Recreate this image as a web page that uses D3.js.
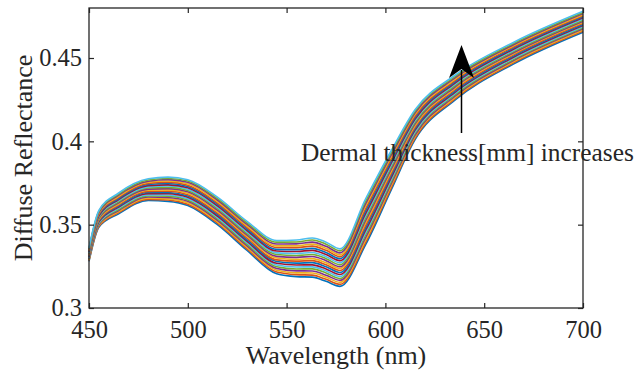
<!DOCTYPE html>
<html>
<head>
<meta charset="utf-8">
<script src="https://cdn.jsdelivr.net/npm/d3@7"></script>
<style>
  html, body { margin: 0; padding: 0; background: #fff; }
  svg { display: block; }
  text { font-family: "Liberation Serif", "Times New Roman", serif; fill: #262626; }
</style>
</head>
<body>
<svg id="chart" width="638" height="378"></svg>
<script>
// Wavelength samples (nm)
const wavelengths = [450, 455, 465, 480, 490, 500, 515, 530, 545, 555, 563, 570, 577, 590, 603, 615, 635, 665, 700];

// Diffuse reflectance of 20 spectra (one column per dermal thickness, thin -> thick), one row per wavelength
const reflectanceRows = [
  [.3280,.3284,.3288,.3293,.3297,.3301,.3305,.3309,.3314,.3318,.3322,.3326,.3331,.3335,.3339,.3343,.3347,.3352,.3356,.3360],
  [.3485,.3490,.3496,.3501,.3506,.3511,.3517,.3522,.3527,.3532,.3538,.3543,.3548,.3553,.3559,.3564,.3569,.3574,.3580,.3585],
  [.3565,.3572,.3578,.3585,.3591,.3598,.3605,.3611,.3618,.3624,.3631,.3637,.3644,.3651,.3657,.3664,.3670,.3677,.3683,.3690],
  [.3645,.3652,.3659,.3666,.3672,.3679,.3686,.3693,.3700,.3707,.3713,.3720,.3727,.3734,.3741,.3748,.3755,.3761,.3768,.3775],
  [.3640,.3648,.3655,.3663,.3671,.3678,.3686,.3693,.3701,.3709,.3716,.3724,.3732,.3739,.3747,.3755,.3762,.3770,.3777,.3785],
  [.3615,.3623,.3631,.3640,.3648,.3656,.3664,.3672,.3680,.3688,.3697,.3705,.3713,.3721,.3729,.3737,.3746,.3754,.3762,.3770],
  [.3500,.3509,.3517,.3526,.3535,.3543,.3552,.3561,.3569,.3578,.3587,.3596,.3604,.3613,.3622,.3630,.3639,.3648,.3656,.3665],
  [.3345,.3354,.3363,.3373,.3382,.3391,.3400,.3409,.3419,.3428,.3437,.3446,.3456,.3465,.3474,.3483,.3492,.3502,.3511,.3520],
  [.3205,.3216,.3226,.3237,.3247,.3258,.3268,.3279,.3289,.3300,.3310,.3321,.3331,.3342,.3352,.3363,.3373,.3384,.3395,.3405],
  [.3188,.3200,.3211,.3223,.3234,.3246,.3258,.3269,.3281,.3292,.3304,.3315,.3327,.3339,.3350,.3362,.3373,.3385,.3396,.3408],
  [.3185,.3197,.3210,.3222,.3235,.3247,.3259,.3272,.3284,.3296,.3309,.3321,.3333,.3346,.3358,.3371,.3383,.3395,.3408,.3420],
  [.3160,.3172,.3185,.3197,.3210,.3222,.3234,.3247,.3259,.3271,.3284,.3296,.3308,.3321,.3333,.3346,.3358,.3370,.3383,.3395],
  [.3130,.3142,.3154,.3166,.3177,.3189,.3201,.3213,.3225,.3237,.3248,.3260,.3272,.3284,.3296,.3308,.3319,.3331,.3343,.3355],
  [.3380,.3394,.3409,.3423,.3438,.3452,.3467,.3481,.3496,.3510,.3525,.3539,.3554,.3568,.3583,.3597,.3612,.3626,.3641,.3655],
  [.3710,.3722,.3735,.3747,.3759,.3772,.3784,.3797,.3809,.3821,.3834,.3846,.3858,.3871,.3883,.3896,.3908,.3920,.3933,.3945],
  [.4010,.4019,.4029,.4038,.4048,.4057,.4067,.4076,.4086,.4095,.4105,.4114,.4124,.4133,.4143,.4152,.4162,.4171,.4181,.4190],
  [.4245,.4253,.4261,.4269,.4277,.4285,.4292,.4300,.4308,.4316,.4324,.4332,.4340,.4348,.4356,.4363,.4371,.4379,.4387,.4395],
  [.4465,.4472,.4479,.4486,.4492,.4499,.4506,.4513,.4520,.4527,.4533,.4540,.4547,.4554,.4561,.4568,.4575,.4581,.4588,.4595],
  [.4655,.4662,.4668,.4675,.4681,.4688,.4695,.4701,.4708,.4714,.4721,.4727,.4734,.4741,.4747,.4754,.4760,.4767,.4773,.4780]
];

const xTicks = [450, 500, 550, 600, 650, 700];
const yTicks = [0.3, 0.35, 0.4, 0.45];
const yTickLabels = ["0.3", "0.35", "0.4", "0.45"];
const lineColors = ["#0072BD", "#D95319", "#EDB120", "#7E2F8E", "#77AC30", "#4DBEEE", "#A2142F"];
const xLabel = "Wavelength (nm)";
const yLabel = "Diffuse Reflectance";
const annotationText = "Dermal thickness[mm] increases";

const W = 638, H = 378;
const m = { left: 89, right: 55, top: 8, bottom: 70 };
const svg = d3.select("#chart");

const x = d3.scaleLinear().domain([450, 700]).range([m.left, W - m.right]);
const y = d3.scaleLinear().domain([0.3, 0.48]).range([H - m.bottom, m.top]);

// Build series (one per spectrum)
const nSeries = reflectanceRows[0].length;
const series = d3.range(nSeries).map(j => wavelengths.map((w, i) => ({ w, r: reflectanceRows[i][j] })));

const line = d3.line().x(d => x(d.w)).y(d => y(d.r)).curve(d3.curveMonotoneX);

const plot = svg.append("g");
plot.selectAll("path.spec")
  .data(series)
  .join("path")
  .attr("class", "spec")
  .attr("d", line)
  .attr("fill", "none")
  .attr("stroke", (d, i) => lineColors[i % lineColors.length])
  .attr("stroke-width", 1.6)
  .attr("stroke-linejoin", "round");

// Axes (ticks pointing inward on all four sides)
const fs = 24.5;
const xAxisB = svg.append("g").attr("transform", `translate(0,${y(0.3)})`)
  .call(d3.axisBottom(x).tickValues(xTicks).tickFormat(d3.format("d")).tickSizeInner(-5).tickSizeOuter(0).tickPadding(12.5));
const xAxisT = svg.append("g").attr("transform", `translate(0,${y(0.48)})`)
  .call(d3.axisTop(x).tickValues(xTicks).tickFormat("").tickSizeInner(-5).tickSizeOuter(0));
const yAxisL = svg.append("g").attr("transform", `translate(${x(450)},0)`)
  .call(d3.axisLeft(y).tickValues(yTicks).tickFormat((d, i) => yTickLabels[i]).tickSizeInner(-5).tickSizeOuter(0).tickPadding(7));
const yAxisR = svg.append("g").attr("transform", `translate(${x(700)},0)`)
  .call(d3.axisRight(y).tickValues(yTicks).tickFormat("").tickSizeInner(-5).tickSizeOuter(0));

[xAxisB, xAxisT, yAxisL, yAxisR].forEach(g => {
  g.select(".domain").remove();
  g.selectAll(".tick line").attr("stroke", "#262626").attr("stroke-width", 1.2);
  g.selectAll(".tick text").attr("font-size", fs).attr("font-family", "Liberation Serif, Times New Roman, serif").attr("fill", "#262626");
});

// Box
svg.append("rect")
  .attr("x", x(450)).attr("y", y(0.48))
  .attr("width", x(700) - x(450)).attr("height", y(0.3) - y(0.48))
  .attr("fill", "none").attr("stroke", "#262626").attr("stroke-width", 1.3);

// Axis labels
svg.append("text")
  .attr("x", (x(450) + x(700)) / 2).attr("y", 364)
  .attr("text-anchor", "middle").attr("font-size", 26)
  .text(xLabel);
svg.append("text")
  .attr("transform", `translate(32,${(y(0.3) + y(0.48)) / 2}) rotate(-90)`)
  .attr("text-anchor", "middle").attr("font-size", 26)
  .text(yLabel);

// Annotation text and arrow
svg.append("text")
  .attr("x", 301).attr("y", 161)
  .attr("font-size", 25.4).attr("fill", "#000")
  .text(annotationText);

const ax = 461.5;
svg.append("line")
  .attr("x1", ax).attr("x2", ax).attr("y1", 133).attr("y2", 70)
  .attr("stroke", "#000").attr("stroke-width", 1.5);
svg.append("path")
  .attr("d", `M${ax},45 L${ax + 12.5},78 L${ax},69 L${ax - 12.5},78 Z`)
  .attr("fill", "#000");
</script>
</body>
</html>
